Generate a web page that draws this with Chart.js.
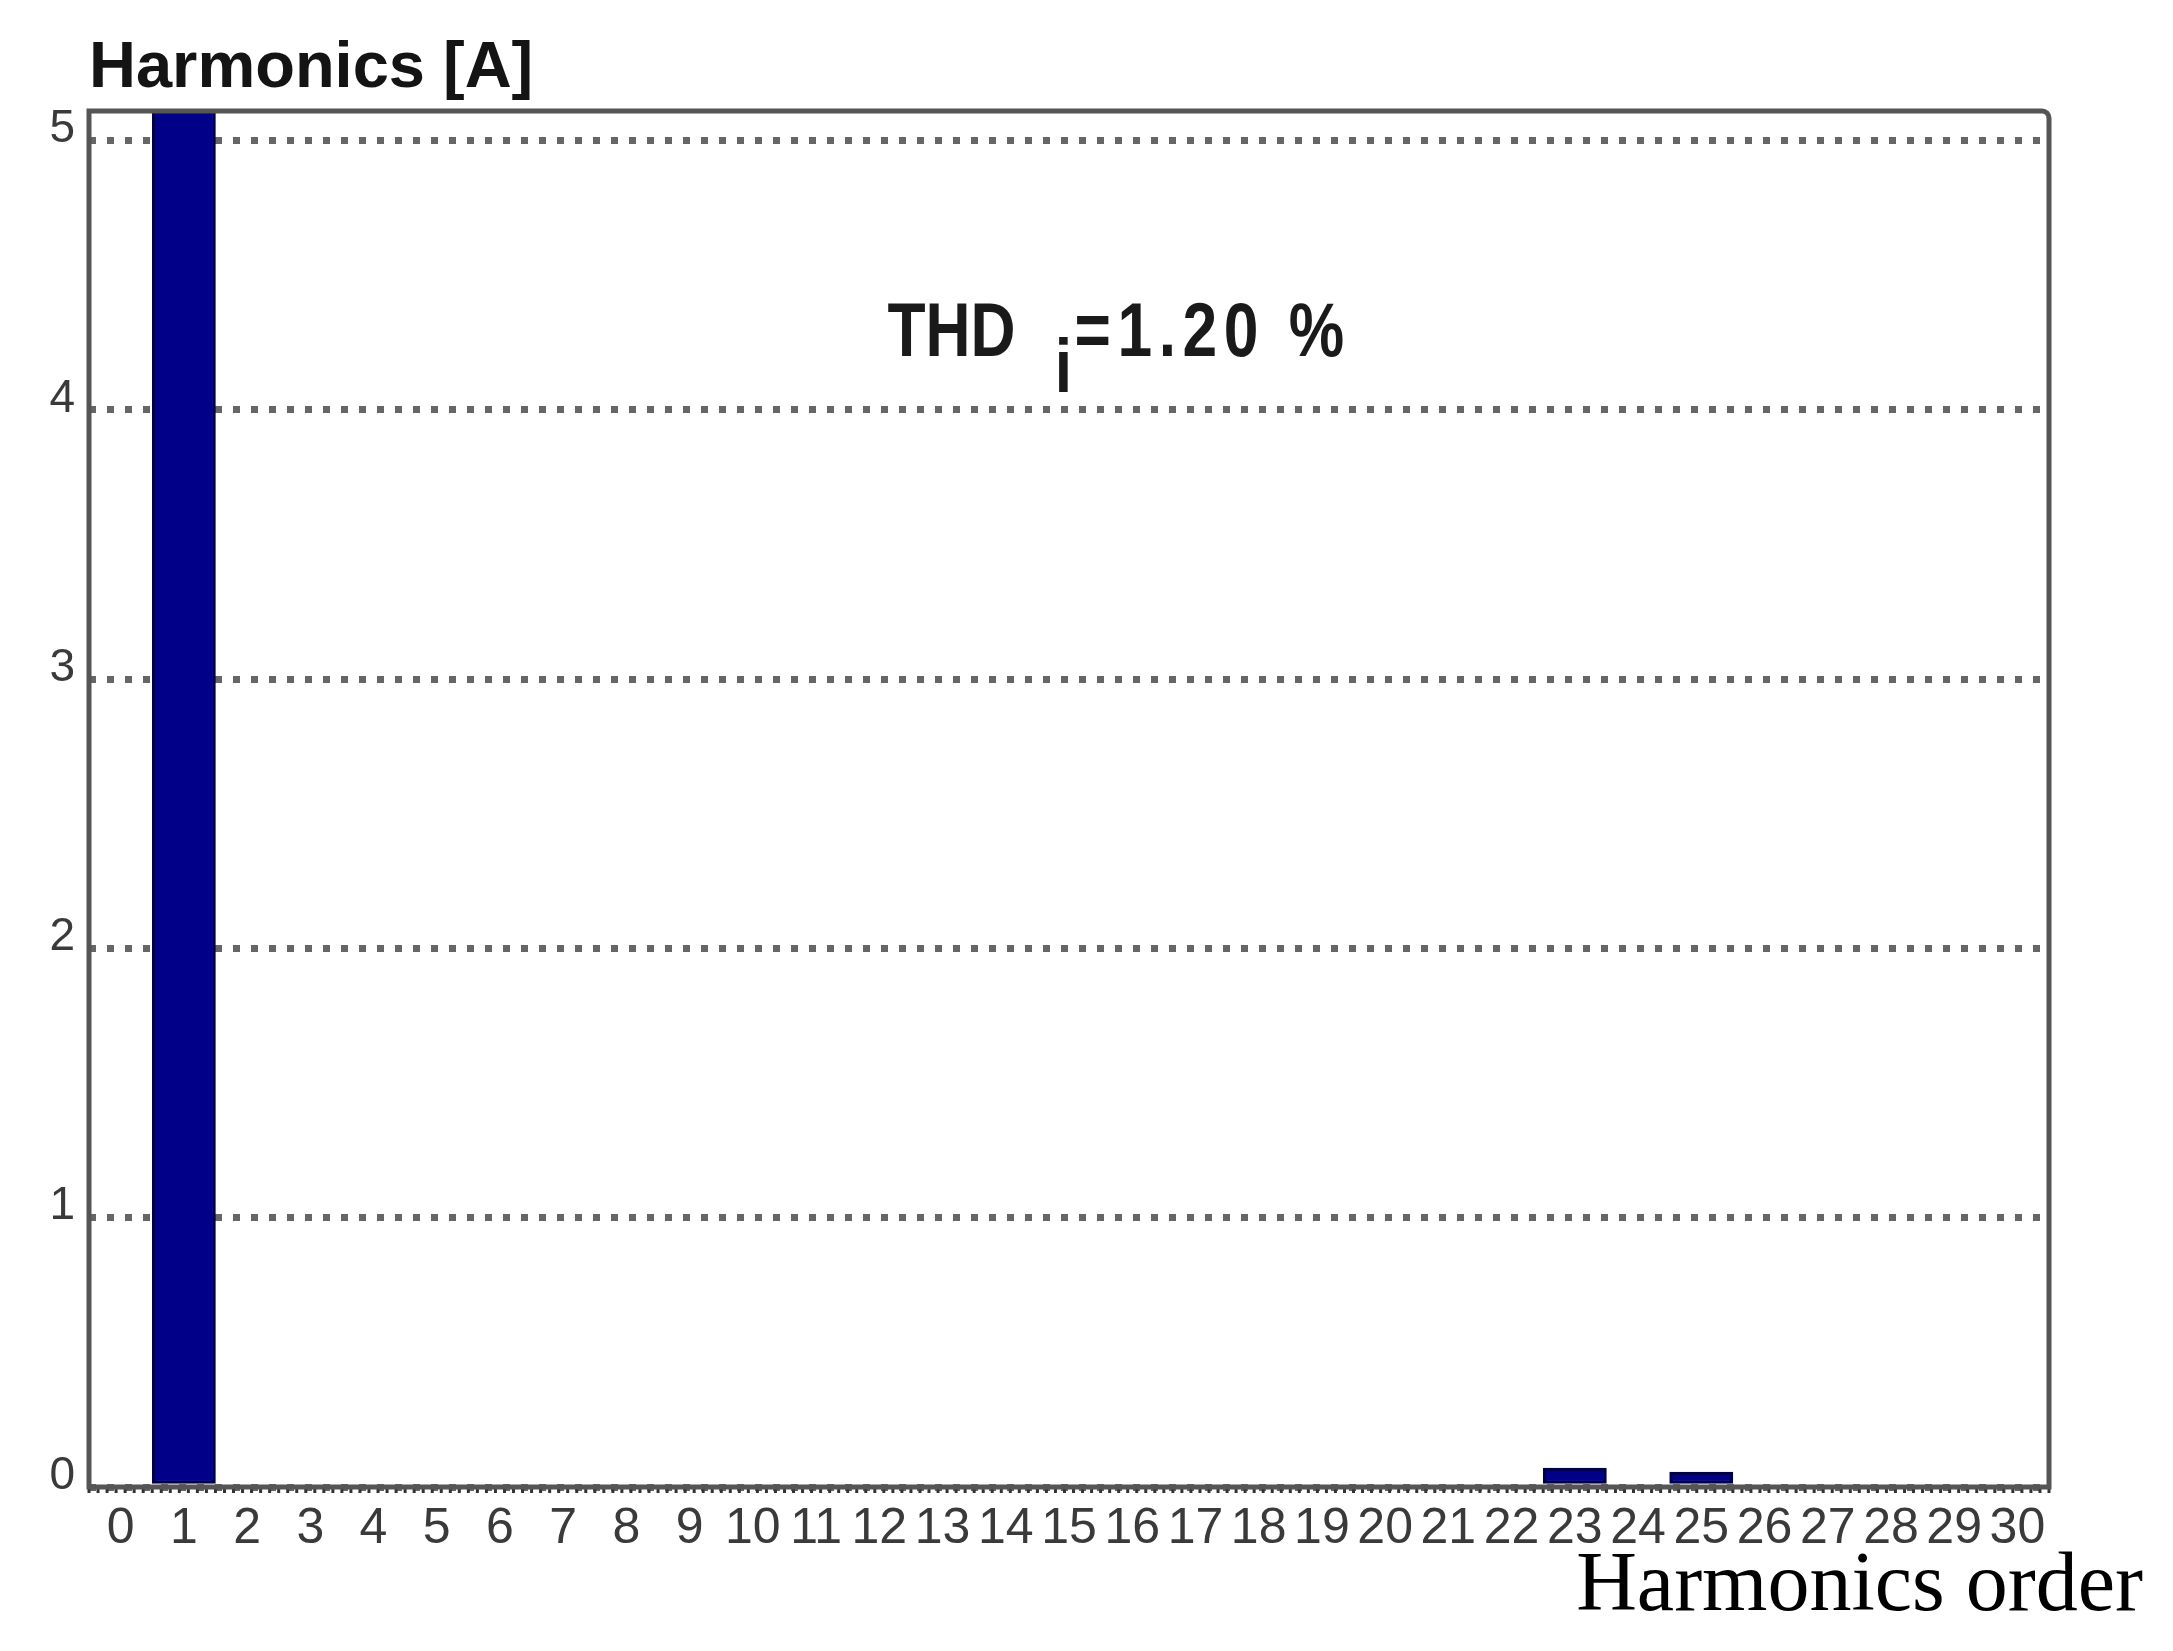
<!DOCTYPE html>
<html>
<head>
<meta charset="utf-8">
<script src="https://cdn.jsdelivr.net/npm/chart.js@4.4.1/dist/chart.umd.min.js"></script>
<style>
  html, body { margin: 0; padding: 0; background: #fff; }
  #wrap { width: 2173px; height: 1651px; }
</style>
</head>
<body>
<div id="wrap"><canvas id="harmonicsChart"></canvas></div>
<script>
// harmonic order on the x axis
const harmonicOrders = [
  '0', '1', '2', '3', '4', '5', '6', '7', '8', '9', '10',
  '11', '12', '13', '14', '15', '16', '17', '18', '19', '20',
  '21', '22', '23', '24', '25', '26', '27', '28', '29', '30'
];
// current per harmonic [A] (fundamental runs past the top of the plot)
const harmonicCurrents = [
  0, 5.3, 0, 0, 0, 0, 0, 0, 0, 0, 0,
  0, 0, 0, 0, 0, 0, 0, 0, 0, 0,
  0, 0, 0.07, 0, 0.055, 0, 0, 0, 0, 0
];
const yTickValues = [0, 1, 2, 3, 4, 5];
const yAxisMax = 5.11;
const chartTitle = 'Harmonics [A]';
const xAxisTitle = 'Harmonics order';
const thdName = 'THD';
const thdSub = 'i';
const thdText = '=1.20 %';

const framePlugin = {
  id: 'frame',
  afterDatasetsDraw(chart) {
    const { ctx, chartArea: a, scales } = chart;
    ctx.save();
    // minor ticks under the x axis
    ctx.strokeStyle = '#333';
    ctx.lineWidth = 3;
    for (let k = 0; k <= harmonicOrders.length * 7; k++) {
      const px = scales.x.getPixelForValue(-0.5 + k / 7);
      ctx.beginPath();
      ctx.moveTo(px, a.bottom);
      ctx.lineTo(px, a.bottom + 6);
      ctx.stroke();
    }
    // plot frame
    ctx.strokeStyle = '#555';
    ctx.lineWidth = 5;
    const r = 7;
    ctx.beginPath();
    ctx.moveTo(a.left, a.bottom);
    ctx.lineTo(a.left, a.top);
    ctx.lineTo(a.right - r, a.top);
    ctx.arcTo(a.right, a.top, a.right, a.top + r, r);
    ctx.lineTo(a.right, a.bottom);
    ctx.closePath();
    ctx.stroke();
    ctx.restore();
  },
  afterDraw(chart) {
    const { ctx, chartArea: a, scales } = chart;
    ctx.save();
    ctx.fillStyle = '#141414';
    ctx.textBaseline = 'alphabetic';
    ctx.textAlign = 'left';
    ctx.font = 'bold 65px "Liberation Sans", Arial, sans-serif';
    ctx.fillText(chartTitle, a.left, a.top - 24);

    // THD annotation, condensed bold face
    const tx = scales.x.getPixelForValue(12.13);
    const ty = scales.y.getPixelForValue(4.2);
    ctx.save();
    ctx.translate(tx, ty);
    ctx.scale(0.82, 1);
    ctx.font = 'bold 76px "Liberation Sans", sans-serif';
    ctx.fillStyle = '#1a1a1a';
    ctx.fillText(thdName, 0, 0);
    ctx.fillText(thdSub, 204, 36);
    ctx.letterSpacing = '8px';
    ctx.fillText(thdText, 228, 0);
    ctx.restore();

    ctx.fillStyle = '#000';
    ctx.textAlign = 'right';
    ctx.font = '84px "Liberation Serif", "Times New Roman", serif';
    ctx.fillText(xAxisTitle, chart.width - 30, chart.height - 41);
    ctx.restore();
  }
};

const config = {
  type: 'bar',
  data: {
    labels: harmonicOrders,
    datasets: [{
      label: 'Harmonics [A]',
      data: harmonicCurrents,
      backgroundColor: '#000088',
      borderColor: '#000045',
      borderWidth: 3,
      borderSkipped: false,
      barPercentage: 1.0,
      categoryPercentage: 1.0
    }]
  },
  options: {
    responsive: true,
    maintainAspectRatio: false,
    animation: false,
    devicePixelRatio: 1,
    layout: { padding: { top: 111, right: 124, left: 0, bottom: 0 } },
    plugins: {
      legend: { display: false },
      tooltip: { enabled: false },
      title: { display: false }
    },
    scales: {
      x: {
        type: 'category',
        offset: true,
        grid: { display: false },
        border: { display: false },
        ticks: {
          autoSkip: false,
          maxRotation: 0,
          padding: 4,
          color: '#3a3a3a',
          font: { family: '"Liberation Sans", sans-serif', size: 50 }
        },
        afterFit: (s) => { s.height = 164; }
      },
      y: {
        min: 0,
        max: yAxisMax,
        grid: {
          color: '#666',
          lineWidth: 7,
          drawTicks: false
        },
        border: { display: false, dash: [7, 11] },
        ticks: {
          padding: 14,
          labelOffset: -11,
          color: '#3a3a3a',
          font: { family: '"Liberation Sans", sans-serif', size: 46 }
        },
        afterBuildTicks: (s) => { s.ticks = yTickValues.map(v => ({ value: v })); },
        afterFit: (s) => { s.width = 89; }
      }
    }
  },
  plugins: [framePlugin]
};

const harmonicsChart = new Chart(
  document.getElementById('harmonicsChart'),
  config
);
</script>
</body>
</html>
